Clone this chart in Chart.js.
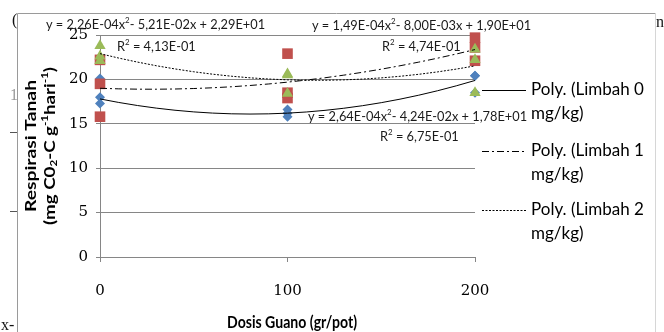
<!DOCTYPE html>
<html>
<head>
<meta charset="utf-8">
<script src="https://cdn.jsdelivr.net/npm/chart.js@4.4.0/dist/chart.umd.min.js"></script>
<style>
  html, body { margin: 0; padding: 0; background: #fff; }
  #chart { display: block; }
</style>
</head>
<body>
<canvas id="chart" width="664" height="332"></canvas>
<script>
// values (replicates per dose)
const doseX = [0, 0, 0, 100, 100, 100, 200, 200, 200];
const limbah0 = [20.1, 18.0, 17.3, 16.6, 16.2, 15.8, 20.4, 20.4, 18.5];
const limbah1 = [22.2, 19.5, 15.8, 22.9, 18.5, 17.9, 24.7, 23.6, 22.1];
const limbah2 = [23.8, 22.6, 22.1, 20.6, 20.5, 18.4, 23.4, 22.2, 18.5];

// polynomial trendlines as printed on the chart: [a, b, c] for a*x^2 + b*x + c
const trend0 = [2.64e-4, -4.24e-2, 17.8];
const trend1 = [1.49e-4, -8.00e-3, 19.0];
const trend2 = [2.26e-4, -5.21e-2, 22.9];
const trendX = [0, 10, 20, 30, 40, 50, 60, 70, 80, 90, 100, 110, 120, 130, 140, 150, 160, 170, 180, 190, 200];

const legendLabels = ["Poly. (Limbah 0", "Poly. (Limbah 1", "Poly. (Limbah 2"];
const legendUnit = "mg/kg)";
const eq0 = ["y = 2,64E-04x", "2", "- 4,24E-02x + 1,78E+01", "R", "2", " = 6,75E-01"];
const eq1 = ["y = 1,49E-04x", "2", "- 8,00E-03x + 1,90E+01", "R", "2", " = 4,74E-01"];
const eq2 = ["y = 2,26E-04x", "2", "- 5,21E-02x + 2,29E+01", "R", "2", " = 4,13E-01"];
const xTicks = [0, 100, 200];
const yTicks = [0, 5, 10, 15, 20, 25];
const xTitle = "Dosis Guano (gr/pot)";
const yTitle1 = "Respirasi Tanah";

const colors = { blue: "#4F81BD", red: "#C0504D", green: "#9BBB59", grid: "#868686" };
const dashes = [[], [7, 3, 2, 3], [2, 1.5]];

function points(ys) {
  return ys.map((y, i) => ({ x: doseX[i], y }));
}

function trendPoints(c) {
  return trendX.map((x) => ({ x, y: c[0] * x * x + c[1] * x + c[2] }));
}

// text pieces: plain strings, or {t, sup} / {t, sub} drawn smaller
function richWidth(ctx, parts, size, weight) {
  let w = 0;
  parts.forEach((p) => {
    const s = typeof p === "string" ? size : size * 0.62;
    ctx.font = `${weight} ${s}px Lato`;
    w += ctx.measureText(typeof p === "string" ? p : p.t).width;
  });
  return w;
}

function drawRich(ctx, parts, x, y, size, weight, color) {
  ctx.fillStyle = color;
  ctx.textBaseline = "middle";
  ctx.textAlign = "left";
  let cx = x;
  parts.forEach((p) => {
    if (typeof p === "string") {
      ctx.font = `${weight} ${size}px Lato`;
      ctx.fillText(p, cx, y);
      cx += ctx.measureText(p).width;
    } else {
      const s = size * 0.62;
      ctx.font = `${weight} ${s}px Lato`;
      const dy = p.sup ? -size * 0.32 : size * 0.25;
      ctx.fillText(p.t, cx, y + dy);
      cx += ctx.measureText(p.t).width;
    }
  });
}

// centred rich text squeezed or stretched to a given length
function drawFitted(ctx, parts, cx, cy, size, weight, length) {
  const w = richWidth(ctx, parts, size, weight);
  ctx.save();
  ctx.translate(cx, cy);
  ctx.scale(length / w, 1);
  drawRich(ctx, parts, -w / 2, 0, size, weight, "#000");
  ctx.restore();
}

function drawEquation(ctx, eq, x, y, rx, ry) {
  drawRich(ctx, [eq[0], { t: eq[1], sup: true }, eq[2]], x, y, 12.8, "normal", "#1a1a1a");
  drawRich(ctx, [eq[3], { t: eq[4], sup: true }, eq[5]], rx, ry, 12.8, "normal", "#1a1a1a");
}

const decorations = {
  id: "decorations",
  beforeDraw(chart) {
    const ctx = chart.ctx;
    ctx.save();
    ctx.fillStyle = "#fff";
    ctx.fillRect(0, 0, chart.width, chart.height);
    // frame of the embedded chart
    ctx.strokeStyle = "#9a9a9a";
    ctx.lineWidth = 1;
    ctx.beginPath();
    ctx.moveTo(17.5, 332);
    ctx.lineTo(17.5, 13.5);
    ctx.lineTo(655.5, 13.5);
    ctx.stroke();
    ctx.strokeStyle = "#d6d6d6";
    ctx.beginPath();
    ctx.moveTo(655.5, 13.5);
    ctx.lineTo(655.5, 332);
    ctx.stroke();
    // fragments of the surrounding page
    ctx.strokeStyle = "#555";
    ctx.beginPath();
    ctx.moveTo(10, 132.5); ctx.lineTo(17, 132.5);
    ctx.moveTo(10, 211.5); ctx.lineTo(17, 211.5);
    ctx.stroke();
    ctx.fillStyle = "#111";
    ctx.font = "16px 'Liberation Serif'";
    ctx.textBaseline = "middle";
    ctx.fillText("(", 12, 21);
    ctx.fillText("n", 656, 23);
    ctx.fillText("x-", 1, 326);
    ctx.fillStyle = "#999";
    ctx.fillText("1", 10, 96);
    ctx.restore();
  },
  afterDraw(chart) {
    const ctx = chart.ctx;
    ctx.save();
    // x axis title, a bit taller than Lato's own shape
    ctx.save();
    ctx.translate(0, 322);
    ctx.scale(1, 1.1);
    drawFitted(ctx, [xTitle], 292, 0, 16, "bold", 130);
    ctx.restore();

    // y axis title, two centred lines
    ctx.save();
    ctx.translate(0, 146);
    ctx.rotate(-Math.PI / 2);
    drawFitted(ctx, [yTitle1], 0, 31, 15.5, "bold", 132);
    const line2 = ["(mg C0", { t: "2", sub: true }, "-C g", { t: "-1", sup: true }, "hari", { t: "-1", sup: true }, ")"];
    drawFitted(ctx, line2, 0, 50, 15.5, "bold", 158);
    ctx.restore();

    // trendline equations
    drawEquation(ctx, eq2, 46, 25, 117, 47);
    drawEquation(ctx, eq1, 312, 26, 382, 47);
    drawEquation(ctx, eq0, 308, 117, 380, 137);

    // legend of the trendlines
    const rows = [90, 151, 210];
    rows.forEach((y, i) => {
      ctx.strokeStyle = "#000";
      ctx.lineWidth = 1;
      ctx.setLineDash(dashes[i]);
      ctx.beginPath();
      ctx.moveTo(482, y + 0.5);
      ctx.lineTo(526, y + 0.5);
      ctx.stroke();
      ctx.setLineDash([]);
      ctx.fillStyle = "#000";
      ctx.font = "17px Lato";
      ctx.textAlign = "left";
      ctx.textBaseline = "middle";
      ctx.fillText(legendLabels[i], 531, y);
      ctx.fillText(legendUnit, 531, y + 24);
    });
    ctx.restore();
  }
};

const markerSet = (label, data, style, radius, color, order) => ({
  label, data, pointStyle: style, pointRadius: radius, pointHoverRadius: radius,
  backgroundColor: color, borderColor: color, borderWidth: 0,
  showLine: false, clip: false, order
});

const trendSet = (label, coef, dash) => ({
  label, data: trendPoints(coef), showLine: true, pointRadius: 0,
  borderColor: "#000", borderWidth: 1, borderDash: dash, tension: 0,
  fill: false, clip: false, order: 0
});

new Chart(document.getElementById("chart"), {
  type: "scatter",
  data: {
    datasets: [
      markerSet("Limbah 0 mg/kg", points(limbah0), "rectRot", 5, colors.blue, 3),
      markerSet("Limbah 1 mg/kg", points(limbah1), "rect", 7.5, colors.red, 2),
      markerSet("Limbah 2 mg/kg", points(limbah2), "triangle", 6.5, colors.green, 1),
      trendSet("Poly. (Limbah 0 mg/kg)", trend0, dashes[0]),
      trendSet("Poly. (Limbah 1 mg/kg)", trend1, dashes[1]),
      trendSet("Poly. (Limbah 2 mg/kg)", trend2, dashes[2])
    ]
  },
  options: {
    responsive: false,
    animation: false,
    devicePixelRatio: 1,
    layout: { padding: { left: 0, top: 35, right: 189, bottom: 0 } },
    plugins: { legend: { display: false }, tooltip: { enabled: false } },
    scales: {
      x: {
        type: "linear", min: 0, max: 200,
        afterBuildTicks: (scale) => { scale.ticks = xTicks.map((v) => ({ value: v })); },
        afterFit: (scale) => { scale.height = 75; },
        grid: { drawOnChartArea: false, drawTicks: true, tickLength: 5, color: colors.grid },
        border: { display: true, color: colors.grid },
        ticks: { color: "#000", padding: 20, maxRotation: 0, font: { family: "'DejaVu Serif'", size: 15 } }
      },
      y: {
        type: "linear", min: 0, max: 25,
        afterBuildTicks: (scale) => { scale.ticks = yTicks.map((v) => ({ value: v })); },
        afterFit: (scale) => { scale.width = 100; },
        grid: { drawOnChartArea: true, drawTicks: true, tickLength: 4, color: colors.grid },
        border: { display: true, color: colors.grid },
        ticks: { color: "#000", padding: 8, font: { family: "'DejaVu Serif'", size: 15 } }
      }
    }
  },
  plugins: [decorations]
});
</script>
</body>
</html>
